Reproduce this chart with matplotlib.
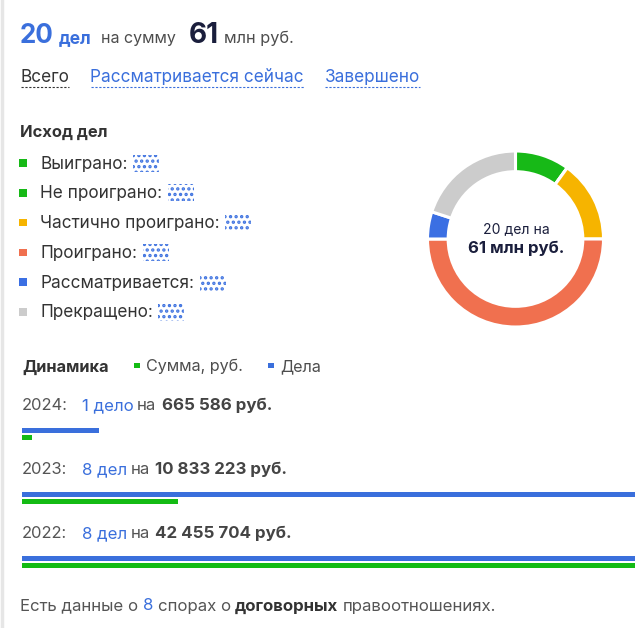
import matplotlib
matplotlib.use('Agg')
import matplotlib.pyplot as plt
from matplotlib.patches import Rectangle

plt.rcParams['font.family'] = ['Inter', 'DejaVu Sans']
plt.rcParams['hatch.linewidth'] = 1.6

# --- data ---
total_cases = 20
total_sum_mln = 61

outcome_labels = ['Выиграно', 'Не проиграно', 'Частично проиграно',
                  'Проиграно', 'Рассматривается', 'Прекращено']
outcome_counts = [2, 0, 3, 10, 1, 4]
outcome_colors = ['#17b917', '#17b917', '#f6b400', '#f0704f', '#3b6fe3', '#cccccc']

years = ['2024', '2023', '2022']
year_cases = [1, 8, 8]
year_case_words = ['дело', 'дел', 'дел']
year_sums = [665586, 10833223, 42455704]

contract_disputes = 8

BLUE = '#3a6fdc'
GREEN = '#14bb14'
DARK = '#1a1e3c'
GREY = '#4d4d4d'
TEXT = '#333333'

W, H = 643, 628
fig = plt.figure(figsize=(W / 100, H / 100), dpi=100)
ax = fig.add_axes([0, 0, 1, 1])
ax.set_xlim(0, W)
ax.set_ylim(H, 0)
ax.axis('off')
renderer = fig.canvas.get_renderer()


def put(x, y, s, size, color, weight='normal', ha='left'):
    # size in pixels, y is baseline; returns right edge in px
    t = ax.text(x, y, s, fontsize=size * 0.72, color=color, fontweight=weight,
                ha=ha, va='baseline')
    bb = t.get_window_extent(renderer)
    return ax.transData.inverted().transform((bb.x1, bb.y0))[0]


def fmt(v):
    return f'{v:,}'.replace(',', ' ')


# left border
ax.axvline(1.5, color='#e6e6e6', lw=2.5)

# header
x = put(20, 43, str(total_cases), 26, BLUE, 'bold')
x = put(x + 5, 43, 'дел', 17.5, BLUE, 'bold')
x = put(x + 9, 43, 'на сумму', 16, GREY)
x = put(x + 13, 43, str(total_sum_mln), 28, DARK, 'bold')
put(x + 5, 43, 'млн руб.', 16.3, GREY)

# tabs
for lx, label, col in [(20.5, 'Всего', TEXT),
                       (90.5, 'Рассматривается сейчас', BLUE),
                       (325, 'Завершено', BLUE)]:
    x1 = put(lx, 82, label, 17.2, col)
    ax.plot([lx, x1], [86.5, 86.5], color=col, lw=0.8, ls=(0, (2, 1.5)))

# outcome legend
put(20.5, 136.5, 'Исход дел', 16.5, TEXT, 'bold')
for i, (lab, col) in enumerate(zip(outcome_labels, outcome_colors)):
    cy = 163 + i * 29.8
    ax.add_patch(Rectangle((19, cy - 3.75), 7.5, 7.5, color=col, lw=0))
    x1 = put(40.5, cy + 5.5, lab + ':', 17.2, TEXT)
    ax.add_patch(Rectangle((x1 + 5, cy - 8.5), 26, 17, facecolor='none',
                           edgecolor='#3f73e0', lw=0, hatch='...'))

# donut
R = 88
axd = fig.add_axes([(515.5 - R) / W, (H - 239 - R) / H, 2 * R / W, 2 * R / H])
axd.pie(outcome_counts, colors=outcome_colors, startangle=90, counterclock=False,
        radius=1, wedgeprops=dict(width=0.235, edgecolor='white', linewidth=2.2))
axd.set_xlim(-1, 1)
axd.set_ylim(-1, 1)
ax.text(516, 233, f'{total_cases} дел на', fontsize=14 * 0.72, color=DARK,
        ha='center', va='baseline')
ax.text(516, 253.5, f'{total_sum_mln} млн руб.', fontsize=16.8 * 0.72, color=DARK,
        fontweight='bold', ha='center', va='baseline')

# dynamics header
put(22, 371.5, 'Динамика', 16.4, TEXT, 'bold')
ax.add_patch(Rectangle((134, 362.5), 5.5, 5.5, color=GREEN, lw=0))
put(146, 371.5, 'Сумма, руб.', 16.1, GREY)
ax.add_patch(Rectangle((268, 362.5), 5.5, 5.5, color=BLUE, lw=0))
put(280, 371.5, 'Дела', 16.1, GREY)

# per-year rows
base = [410, 474, 538]
for yr, n, word, s, yb in zip(years, year_cases, year_case_words, year_sums, base):
    put(22, yb, yr + ':', 16.5, '#555555')
    x = put(81.5, yb, f'{n} {word}', 16.8, BLUE)
    x = put(x + 4, yb, 'на', 16.8, '#555555')
    put(x + 5, yb, f'{fmt(s)} руб.', 16.9, '#444444', 'bold')

# bars: cases on one scale, sums on another, same strip
rect = [22 / W, 0, 613 / W, 1]
axc = fig.add_axes(rect, label='cases')
axs = fig.add_axes(rect, label='sums')
for a, vals, col, off in [(axc, year_cases, BLUE, 20.5), (axs, year_sums, GREEN, 27)]:
    a.barh([b + off for b in base], vals, height=5, color=col, lw=0)
    a.set_xlim(0, max(vals))
    a.set_ylim(H, 0)
    a.axis('off')
    a.patch.set_visible(False)

# footer
fs = 16.8
x = put(20, 610.5, 'Есть данные о', fs, '#555555')
x = put(x + 4.5, 610.5, str(contract_disputes), fs, BLUE)
x = put(x + 4.5, 610.5, 'спорах о', fs, '#555555')
x = put(x + 4.5, 610.5, 'договорных', fs, '#333333', 'bold')
put(x + 4.5, 610.5, 'правоотношениях.', fs, '#555555')

fig.savefig('out.png', dpi=100, facecolor='white')
